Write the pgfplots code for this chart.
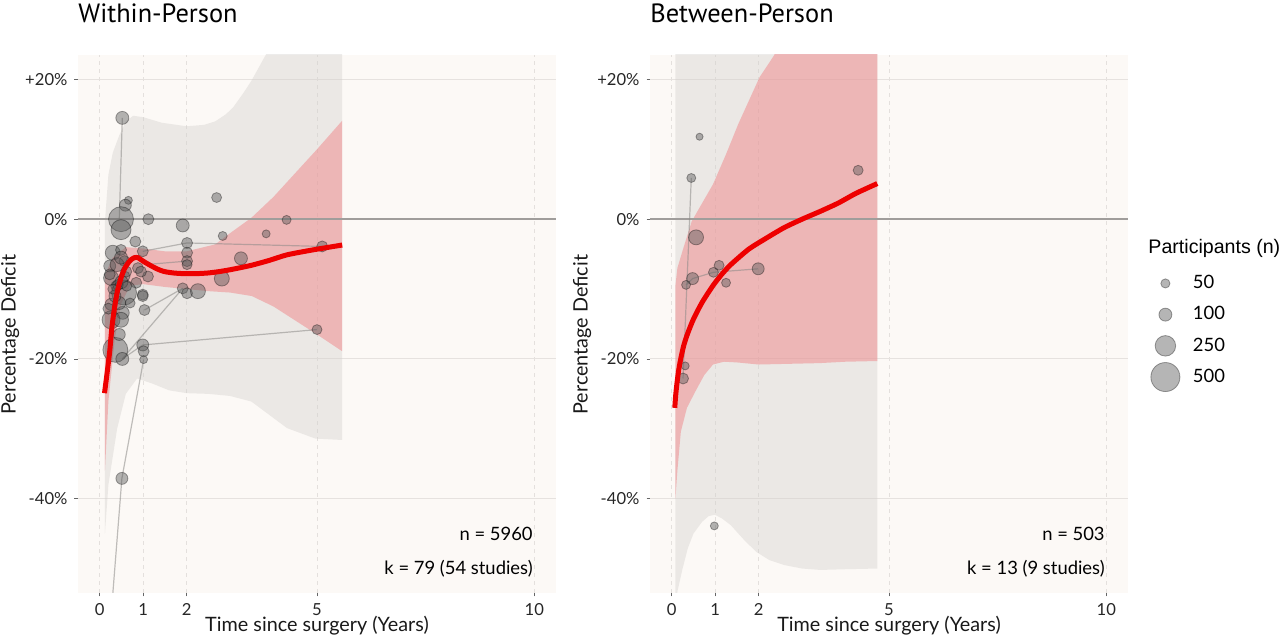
\documentclass[border=0pt]{standalone}
\usepackage{fontspec}
\setmainfont{Lato}
\newfontfamily\titlefont{PT Sans}
\newfontfamily\legfont{Liberation Sans}
\usepackage{pgfplots}
\pgfplotsset{compat=1.18}
\definecolor{panelbg}{RGB}{252,249,246}
\definecolor{hgrid}{RGB}{230,226,223}
\definecolor{vgrid}{RGB}{228,224,221}
\definecolor{zeroline}{RGB}{160,157,155}
\definecolor{grayband}{RGB}{210,207,204}
\definecolor{redband}{RGB}{239,134,137}
\definecolor{ptfill}{RGB}{90,90,90}
\definecolor{fitred}{RGB}{238,0,0}
\definecolor{linkgray}{RGB}{140,138,136}

\pgfplotstableread{
x y n
0.52 14.5 100
0.66 2.7 38
0.59 2.0 85
0.49 0.0 370
0.49 -1.5 237
1.12 0.0 72
1.91 -0.9 100
2.69 3.1 59
2.83 -2.4 48
4.30 -0.1 48
3.83 -2.1 38
3.25 -5.6 100
2.81 -8.5 133
5.12 -3.9 72
5.00 -15.8 59
2.01 -3.4 72
2.01 -4.8 72
2.01 -6.0 72
2.01 -6.5 60
1.91 -9.9 72
2.01 -10.6 72
2.26 -10.3 133
0.82 -3.2 72
0.30 -4.8 133
0.49 -4.4 72
0.99 -4.6 72
0.23 -6.7 85
0.57 -6.0 72
0.88 -7.0 72
0.26 -8.4 133
0.57 -8.2 72
1.11 -8.2 72
0.84 -9.1 72
0.38 -9.6 72
0.99 -10.8 72
0.56 -10.5 370
0.26 -12.2 85
0.99 -11.0 72
1.03 -13.0 72
0.53 -13.4 100
0.26 -14.4 192
0.49 -14.4 133
0.36 -18.7 370
0.52 -20.0 100
0.99 -18.0 85
1.01 -18.9 72
1.01 -20.1 38
0.51 -37.1 85
0.42 -9.4 72
0.61 -7.5 72
0.95 -7.5 72
0.23 -7.9 72
0.40 -6.5 116
0.45 -12.0 100
0.50 -9.0 100
0.35 -11.0 85
0.62 -9.6 59
0.70 -12.0 59
0.30 -10.0 59
0.20 -12.8 72
0.45 -16.5 85
0.49 -5.5 100
}\withinpts

\pgfplotstableread{
x y n
0.64 11.8 30
0.45 5.9 48
0.56 -2.6 133
0.48 -8.5 85
0.33 -9.4 48
0.96 -7.6 59
1.09 -6.6 59
1.25 -9.1 48
1.99 -7.1 85
4.29 7.0 59
0.31 -21.0 38
0.26 -22.8 72
0.98 -43.9 38
}\betweenpts

\tikzset{
  ann/.style={anchor=east, inner sep=0pt, font=\fontsize{9.2}{11}\selectfont},
  ttl/.style={anchor=base west, inner sep=0pt, yshift=16pt, font=\titlefont\fontsize{13.2}{15}\selectfont},
}
\pgfplotsset{
  panel/.style={
    scale only axis, anchor=south west,
    width=239pt, height=269pt,
    xmin=-0.5, xmax=10.5, ymin=-53.5, ymax=23.5,
    axis background/.style={fill=panelbg},
    axis line style={draw=none},
    xtick={0,1,2,5,10}, xticklabels={0,1,2,5,10},
    ytick={-40,-20,0,20}, yticklabels={-40\%,-20\%,0\%,+20\%},
    tick pos=left, tick align=outside, major tick length=1.75pt,
    tick style={color=black!60, line width=0.4pt},
    xmajorgrids, ymajorgrids,
    x grid style={dash pattern=on 2pt off 2pt, color=vgrid, line width=0.4pt},
    y grid style={color=hgrid, line width=0.5pt},
    ticklabel style={font=\fontsize{8.3}{10}\selectfont, color=black!85},
    xlabel={Time since surgery (Years)}, ylabel={Percentage Deficit},
    label style={font=\fontsize{9.9}{11}\selectfont, color=black!90},
    xlabel style={at={(axis description cs:0.5,-0.061)}, anchor=center},
    ylabel style={at={(axis description cs:-0.142,0.48)}, anchor=center},
    clip mode=individual,
  },
  pts/.style={scatter, only marks, mark=*,
    scatter/use mapped color={draw=black, fill=ptfill, fill opacity=0.45, draw opacity=0.35, line width=0.4pt},
    visualization depends on={0.325*sqrt(\thisrow{n}) \as \msize},
    scatter/@pre marker code/.append style={/tikz/mark size=\msize}},
  link/.style={draw=linkgray, opacity=0.55, line width=0.6pt},
  fit/.style={draw=fitred, line width=2.5pt, line join=round, smooth, tension=0.4},
  legmark/.style={only marks, mark=*, mark size=#1,
     mark options={fill=ptfill, fill opacity=0.45, draw=black, draw opacity=0.35, line width=0.4pt}},
}

\begin{document}
\begin{tikzpicture}
\useasboundingbox (0,0) rectangle (640pt,318.5pt);

% ---------------- Within-Person ----------------
\begin{axis}[panel, at={(39pt,22pt)}]
\addplot[fill=grayband, fill opacity=0.4, draw=none] coordinates {
(0.12,-0.3)(0.2,6.4)(0.3,9.5)(0.45,12)(0.6,14)(0.77,14.8)(1.0,14.6)(1.43,13.8)(2.0,13.3)(2.4,13.5)(2.66,14.0)(2.9,15)(3.07,16.0)(3.3,18)(3.49,19.8)(3.81,23.4)(4.2,28)(5.58,35)
(5.58,-31.6)(4.96,-31.4)(4.31,-29.9)(3.9,-28)(3.49,-26.1)(3.0,-25.3)(2.5,-25)(2.0,-24.9)(1.6,-24.5)(1.2,-23.5)(0.86,-22.8)(0.6,-25)(0.4,-30)(0.2,-38)(0.12,-45)
} --cycle;
\addplot[fill=redband, fill opacity=0.5, draw=none] coordinates {
(0.12,-8)(0.3,-5.5)(0.6,-4)(1.0,-4.2)(1.5,-4.6)(2.0,-4.6)(2.66,-3.6)(3.0,-2)(3.49,0.2)(4.0,3.2)(4.47,6.4)(5.0,10)(5.58,14.1)
(5.58,-18.9)(5.0,-16.5)(4.5,-14.5)(4.0,-12.5)(3.5,-11)(3.0,-10.5)(2.5,-10.3)(2.0,-10)(1.5,-9.7)(1.0,-9.3)(0.7,-9.5)(0.5,-12)(0.35,-17)(0.2,-26)(0.12,-36)
} --cycle;
\addplot[draw=zeroline, line width=0.9pt] coordinates {(-0.5,0)(10.5,0)};
\addplot[link] coordinates {(0.52,14.5)(0.45,0.0)};
\addplot[link] coordinates {(0.99,-4.6)(2.01,-3.4)(5.12,-3.9)};
\addplot[link] coordinates {(0.99,-18.0)(5.00,-15.8)};
\addplot[link] coordinates {(0.52,-20.0)(0.99,-18.0)};
\addplot[link] coordinates {(1.01,-20.1)(0.51,-37.1)(0.22,-60)};
\addplot[link] coordinates {(0.52,-20.0)(1.91,-9.9)};
\addplot[link] coordinates {(1.03,-13.0)(1.91,-9.9)};
\addplot[link] coordinates {(1.05,-6.5)(2.01,-6.0)};
\addplot[pts] table {\withinpts};
\addplot[fit] coordinates {
(0.11,-24.9)(0.17,-22)(0.23,-18.9)(0.28,-15.5)(0.34,-12.7)(0.41,-10.2)(0.49,-8.4)(0.57,-7.1)(0.65,-6.3)(0.72,-5.8)(0.80,-5.5)(0.88,-5.5)(0.95,-5.8)(1.05,-6.2)(1.19,-6.7)(1.35,-7.2)(1.49,-7.5)(1.7,-7.7)(1.95,-7.8)(2.2,-7.8)(2.49,-7.7)(2.75,-7.5)(3.03,-7.2)(3.49,-6.6)(3.9,-5.9)(4.31,-5.1)(4.9,-4.4)(5.58,-3.7)};
\node[ttl] at (rel axis cs:0,1) {Within-Person};
\node[ann] at (rel axis cs:0.952,0.110) {n = 5960};
\node[ann] at (rel axis cs:0.952,0.046) {k = 79 (54 studies)};
\end{axis}

% ---------------- Between-Person ----------------
\begin{axis}[panel, at={(325pt,22pt)},
  legend style={at={(1.047,0.604)}, anchor=north west, draw=none, fill=none,
    inner sep=0pt, row sep=0.6pt, column sep=6.5pt,
    nodes={inner sep=0pt, minimum height=15pt}, font=\fontsize{9.2}{10}\selectfont},
  legend cell align=left]
\addplot[fill=grayband, fill opacity=0.4, draw=none, forget plot] coordinates {
(0.085,60)(4.73,60)
(4.73,-50.0)(4.0,-50.1)(3.42,-50.2)(3.0,-50)(2.59,-49.5)(2.25,-48.8)(1.94,-47.6)(1.65,-45.8)(1.36,-43.8)(1.15,-42.8)(0.99,-42.3)(0.85,-42.5)(0.70,-43.3)(0.5,-45)(0.37,-47.1)(0.25,-50)(0.13,-53.3)(0.085,-65)
} --cycle;
\addplot[fill=redband, fill opacity=0.5, draw=none, forget plot] coordinates {
(0.085,-9.5)(0.13,-7)(0.25,-4.5)(0.46,-0.3)(0.7,2.3)(0.95,5)(1.25,9.3)(1.53,13.6)(1.8,17.3)(2.02,20.3)(2.35,23.4)(3,32)(4.73,45)
(4.73,-20.3)(4.0,-20.4)(3.4,-20.6)(2.7,-20.7)(2.0,-20.8)(1.5,-20.5)(1.2,-20.4)(0.95,-20.8)(0.75,-22.3)(0.54,-24.7)(0.35,-27)(0.21,-30.4)(0.13,-36)(0.085,-40)
} --cycle;
\addplot[draw=zeroline, line width=0.9pt, forget plot] coordinates {(-0.5,0)(10.5,0)};
\addplot[link, forget plot] coordinates {(0.45,5.9)(0.26,-22.8)};
\addplot[link, forget plot] coordinates {(0.33,-9.4)(0.48,-8.5)(0.96,-7.6)(1.99,-7.1)};
\addplot[pts, forget plot] table {\betweenpts};
\addplot[fit, forget plot] coordinates {
(0.07,-27.0)(0.09,-25.3)(0.12,-23.5)(0.16,-21.6)(0.21,-19.9)(0.28,-18.0)(0.37,-16.3)(0.5,-14.3)(0.70,-11.9)(0.95,-9.5)(1.15,-7.9)(1.36,-6.5)(1.77,-4.3)(2.18,-2.7)(2.59,-1.2)(3.0,0)(3.41,1.1)(3.83,2.3)(4.24,3.7)(4.73,5.1)};
\addlegendimage{legmark=2.30pt}
\addlegendentry{50}
\addlegendimage{legmark=3.25pt}
\addlegendentry{100}
\addlegendimage{legmark=5.14pt}
\addlegendentry{250}
\addlegendimage{legmark=7.27pt}
\addlegendentry{500}
\node[ttl] at (rel axis cs:0,1) {Between-Person};
\node[ann] at (rel axis cs:0.952,0.110) {n = 503};
\node[ann] at (rel axis cs:0.952,0.046) {k = 13 (9 studies)};
\node[anchor=west, inner sep=0pt, font=\legfont\fontsize{9.8}{11}\selectfont] at (rel axis cs:1.042,0.641) {Participants (n)};
\end{axis}
\end{tikzpicture}
\end{document}
